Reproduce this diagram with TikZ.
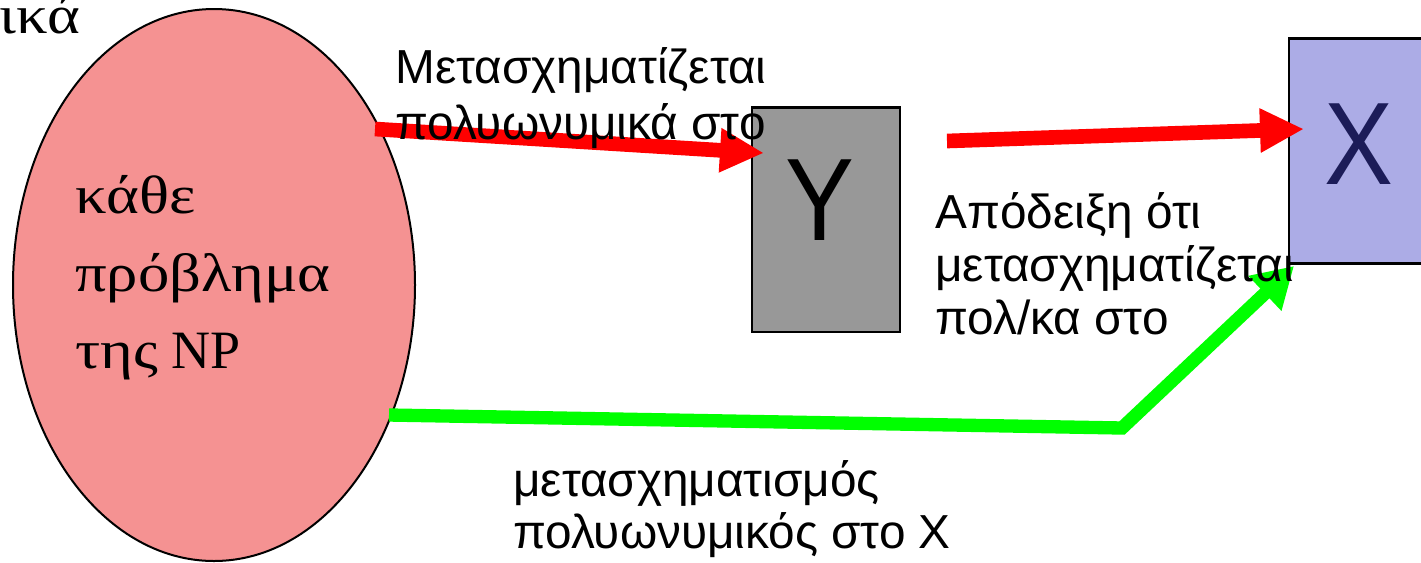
\documentclass[tikz,border=0pt]{standalone}
\usepackage{fontspec}
\setmainfont{Liberation Serif}
\newfontfamily\wideserif[FakeStretch=1.16]{Liberation Serif}
\newfontfamily\gsans{Liberation Sans}
\newfontfamily\narrowsans[FakeStretch=0.88]{Liberation Sans}
\usetikzlibrary{arrows.meta,shapes.geometric}
\definecolor{npred}{RGB}{245,146,146}
\definecolor{boxgray}{RGB}{152,152,152}
\definecolor{boxblue}{RGB}{172,172,230}
\definecolor{navy}{RGB}{28,28,88}
\definecolor{arrred}{RGB}{255,0,0}
\definecolor{arrgreen}{RGB}{0,255,0}
\tikzset{
  serif/.style={font=\fontsize{40.5}{48}\selectfont, inner sep=0pt},
  lab/.style={font=\gsans\fontsize{35.8}{40}\selectfont, inner sep=0pt, anchor=base west},
  bigletter/.style={font=\narrowsans\fontsize{88}{96}\selectfont, inner sep=0pt, anchor=base},
  probbox/.style={draw=black, line width=2pt, minimum width=111pt, minimum height=168.5pt, inner sep=0pt},
  redarrow/.style={draw=arrred, line width=11pt, -{Triangle[length=33pt,width=31pt]}, arrred},
  greenarrow/.style={draw=arrgreen, line width=10pt, -{Triangle[length=30pt,width=34pt]}, arrgreen},
}
\begin{document}
\begin{tikzpicture}[x=0.75pt,y=-0.75pt]
\useasboundingbox (0,0) rectangle (1421,562);
% ellipse
\node[draw=black, line width=1.5pt, ellipse, fill=npred, minimum width=301.5pt, minimum height=414pt, inner sep=0pt] (np) at (214,285) {};
\node[serif, anchor=base west] (cut) at (-1,33) {\wideserif ικά};
\node[serif, anchor=base west] (e1) at (75,213) {\wideserif κάθε};
\node[serif, anchor=base west] (e2) at (75,291) {\wideserif πρόβλημα};
\node[serif, anchor=base west] (e3) at (75,368) {{\wideserif της} NP};
% boxes
\node[probbox, fill=boxgray] (Y) at (826,219.5) {};
\node[bigletter] (Yl) at (820,240) {Y};
\node[probbox, fill=boxblue] (X) at (1363,151) {};
\node[bigletter, text=navy] (Xl) at (1359,184) {X};
% arrow endpoints
\coordinate (r1s) at (375,129);
\coordinate (r1e) at (764,153);
\coordinate (r2s) at (947,141);
\coordinate (r2e) at (1304,129);
\coordinate (gs) at (389,415);
\coordinate (gb) at (1122,428);
\coordinate (ge) at (1294,266);
\draw[redarrow] (r1s) -- (r1e);
\draw[redarrow] (r2s) -- (r2e);
\draw[greenarrow] (gs) -- (gb) -- (ge);
% labels
\node[lab] (a1) at (395,83) {Μετασχηματίζεται};
\node[lab] (a2) at (395,139) {πολυωνυμικά στο};
\node[lab] (b1) at (935,228) {Απόδειξη ότι};
\node[lab] (b2) at (935,281) {μετασχηματίζεται};
\node[lab] (b3) at (935,334) {πολ/κα στο};
\node[lab] (c1) at (513,496) {μετασχηματισμός};
\node[lab] (c2) at (513,548) {πολυωνυμικός στο X};
\end{tikzpicture}
\end{document}
